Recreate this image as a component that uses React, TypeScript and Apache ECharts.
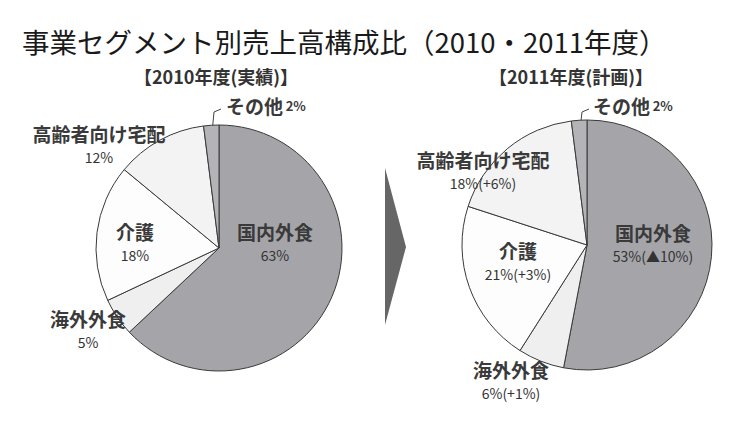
import React, { useEffect, useRef } from "react";
import * as echarts from "echarts";

const segments = ["国内外食", "海外外食", "介護", "高齢者向け宅配", "その他"];
const share2010 = [63, 5, 18, 12, 2];
const share2011 = [53, 6, 21, 18, 2];
const change2011 = ["▲10%", "+1%", "+3%", "+6%", ""];
const sliceColors = ["#a5a5a9", "#efefef", "#fdfdfd", "#f3f3f3", "#b4b4b8"];

const titleText = "事業セグメント別売上高構成比（2010・2011年度）";
const subtitles = ["【2010年度(実績)】", "【2011年度(計画)】"];

// label anchor positions (x, y, align)
const labelPos2010: [number, number, string][] = [
  [275, 243, "center"],
  [88, 330, "center"],
  [135, 243, "center"],
  [99, 145, "center"],
  [226, 105, "left"],
];
const labelPos2011: [number, number, string][] = [
  [653, 244, "center"],
  [511, 381, "center"],
  [518, 262, "center"],
  [483, 171, "center"],
  [593, 105, "left"],
];
const leader2010 = [[212, 133], [214, 112], [221, 109]];
const leader2011 = [[580, 130], [582, 112], [589, 109]];

const FONT = "'Noto Sans CJK JP', 'Noto Sans', sans-serif";

function makeSeries(
  values: number[],
  center: [number, number],
  radius: number,
  fmt: (i: number) => string,
  pos: [number, number, string][],
  leader: number[][]
) {
  return {
    type: "pie",
    center,
    radius,
    startAngle: 90,
    clockwise: true,
    silent: true,
    avoidLabelOverlap: false,
    data: values.map((v, i) => ({
      name: segments[i],
      value: v,
      itemStyle: { color: sliceColors[i] },
      label: {
        show: true,
        position: i === 4 ? "outside" : "inside",
        formatter: fmt(i),
      },
      labelLine: { show: i === 4, lineStyle: { color: "#444", width: 1 }, length: 5, length2: 5 },
    })),
    itemStyle: { borderColor: "#3a3a3a", borderWidth: 1 },
    label: {
      color: "#3a3a3a",
      fontFamily: FONT,
      lineHeight: 24,
      overflow: "none",
      rich: {
        n: { fontSize: 19, fontWeight: "bold", color: "#3a3a3a", fontFamily: FONT, lineHeight: 24 },
        p: { fontSize: 14, color: "#333", fontFamily: FONT, lineHeight: 24 },
        s: { fontSize: 13, fontWeight: "bold", color: "#3a3a3a", fontFamily: FONT, lineHeight: 24 },
      },
    },
    labelLayout: (params: any) => {
      const p = pos[params.dataIndex];
      const out: any = {
        x: p[0],
        y: p[1],
        align: p[2],
        verticalAlign: "middle",
      };
      if (params.dataIndex === 4) out.labelLinePoints = leader;
      return out;
    },
  };
}

export default function App() {
  const ref = useRef<HTMLDivElement>(null);
  useEffect(() => {
    if (!ref.current) return;
    const chart = echarts.init(ref.current, null, { renderer: "svg" });
    chart.setOption({
      animation: false,
      backgroundColor: "#ffffff",
      title: {
        text: titleText,
        left: 17,
        top: 22,
        textStyle: { fontSize: 27.5, fontWeight: "normal", color: "#1a1a1a", fontFamily: FONT },
      },
      graphic: [
        {
          type: "text",
          x: 216,
          y: 76,
          style: {
            text: subtitles[0],
            fontSize: 18,
            fontWeight: "bold",
            fill: "#333",
            fontFamily: FONT,
            align: "center",
            verticalAlign: "middle",
          },
        },
        {
          type: "text",
          x: 571,
          y: 76,
          style: {
            text: subtitles[1],
            fontSize: 18,
            fontWeight: "bold",
            fill: "#333",
            fontFamily: FONT,
            align: "center",
            verticalAlign: "middle",
          },
        },
        {
          type: "polygon",
          shape: { points: [[385, 168], [406, 247], [385, 325]] },
          style: { fill: "#666666" },
        },
      ],
      series: [
        makeSeries(
          share2010,
          [219, 248],
          123,
          (i) => (i === 4 ? `{n|${segments[i]}} {s|${share2010[i]}%}` : `{n|${segments[i]}}\n{p|${share2010[i]}%}`),
          labelPos2010,
          leader2010
        ),
        makeSeries(
          share2011,
          [587, 245],
          125,
          (i) =>
            i === 4
              ? `{n|${segments[i]}} {s|${share2011[i]}%}`
              : `{n|${segments[i]}}\n{p|${share2011[i]}%(${change2011[i]})}`,
          labelPos2011,
          leader2011
        ),
      ],
    });
    return () => chart.dispose();
  }, []);
  return (
    <div
      ref={ref}
      style={{ position: "fixed", left: 0, top: 0, width: 756, height: 430, background: "#fff" }}
    />
  );
}
